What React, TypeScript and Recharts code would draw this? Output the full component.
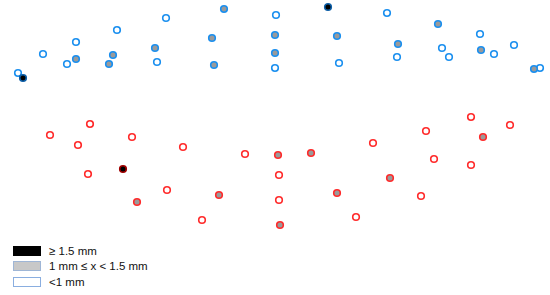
import React from 'react';
import { ScatterChart, Scatter, XAxis, YAxis } from 'recharts';

type Pt = { x: number; y: number };

// upper group (blue outline)
const blueSmall: Pt[] = [
  { x: 18, y: 73 }, { x: 43, y: 54 }, { x: 67, y: 64 }, { x: 76, y: 42 }, { x: 117, y: 30 },
  { x: 166, y: 18 }, { x: 157, y: 62 }, { x: 276, y: 15 }, { x: 275, y: 68 }, { x: 339, y: 63 },
  { x: 387, y: 13 }, { x: 397, y: 57 }, { x: 480, y: 34 }, { x: 442, y: 48 }, { x: 449, y: 57 },
  { x: 494, y: 54 }, { x: 514, y: 45 }, { x: 540, y: 68 },
];
const blueMid: Pt[] = [
  { x: 76, y: 59 }, { x: 113, y: 55 }, { x: 109, y: 64 }, { x: 155, y: 48 }, { x: 224, y: 9 },
  { x: 212, y: 38 }, { x: 214, y: 65 }, { x: 275, y: 35 }, { x: 275, y: 53 }, { x: 337, y: 36 },
  { x: 438, y: 24 }, { x: 398, y: 44 }, { x: 481, y: 50 }, { x: 534, y: 69 },
];
const blueLarge: Pt[] = [{ x: 23, y: 78 }, { x: 328, y: 7 }];

// lower group (red outline)
const redSmall: Pt[] = [
  { x: 50, y: 135 }, { x: 90, y: 124 }, { x: 78, y: 145 }, { x: 132, y: 137 }, { x: 88, y: 174 },
  { x: 183, y: 147 }, { x: 245, y: 154 }, { x: 167, y: 190 }, { x: 202, y: 220 }, { x: 279, y: 175 },
  { x: 279, y: 200 }, { x: 373, y: 143 }, { x: 356, y: 217 }, { x: 421, y: 196 }, { x: 426, y: 131 },
  { x: 434, y: 159 }, { x: 471, y: 117 }, { x: 471, y: 165 }, { x: 510, y: 125 },
];
const redMid: Pt[] = [
  { x: 137, y: 202 }, { x: 219, y: 195 }, { x: 278, y: 155 }, { x: 280, y: 225 }, { x: 311, y: 153 },
  { x: 337, y: 193 }, { x: 390, y: 178 }, { x: 483, y: 137 },
];
const redLarge: Pt[] = [{ x: 123, y: 169 }];

const legendLabels = ['≥ 1.5 mm', '1 mm ≤ x < 1.5 mm', '<1 mm'];

const BLUE = '#1a8fef';
const RED = '#ff2a2a';
const GRAY = '#9a9a9a';

const dot = (stroke: string, fill: string) => (props: any) => (
  <circle cx={props.cx} cy={props.cy} r={3.3} fill={fill} stroke={stroke} strokeWidth={1.6} />
);

const LegendBox = () => {
  const boxes = [
    { fill: '#000000', stroke: '#000000' },
    { fill: '#c8c8c8', stroke: '#9fb6d6' },
    { fill: '#ffffff', stroke: '#8aaee0' },
  ];
  return (
    <div
      style={{
        position: 'absolute', left: 13, top: 243,
        fontFamily: 'Liberation Sans, Arial, sans-serif', fontSize: 11.5, color: '#111',
      }}
    >
      {legendLabels.map((l, i) => (
        <div key={l} style={{ display: 'flex', alignItems: 'center', height: 15.5 }}>
          <span
            style={{
              display: 'inline-block', width: 26, height: 8, background: boxes[i].fill,
              border: `1px solid ${boxes[i].stroke}`, marginRight: 8,
            }}
          />
          {l}
        </div>
      ))}
    </div>
  );
};

export default function App() {
  return (
    <div style={{ position: 'absolute', left: 0, top: 0, width: 550, height: 295, background: '#fff' }}>
      <ScatterChart width={550} height={295} margin={{ top: 0, right: 0, bottom: 0, left: 0 }}>
        <XAxis type="number" dataKey="x" domain={[0, 550]} hide />
        <YAxis type="number" dataKey="y" domain={[0, 295]} reversed hide />
        <Scatter data={blueSmall} shape={dot(BLUE, '#fff')} isAnimationActive={false} />
        <Scatter data={blueMid} shape={dot(BLUE, GRAY)} isAnimationActive={false} />
        <Scatter data={blueLarge} shape={dot('#0d5fa8', '#000')} isAnimationActive={false} />
        <Scatter data={redSmall} shape={dot(RED, '#fff')} isAnimationActive={false} />
        <Scatter data={redMid} shape={dot(RED, GRAY)} isAnimationActive={false} />
        <Scatter data={redLarge} shape={dot('#a00000', '#000')} isAnimationActive={false} />
      </ScatterChart>
      <LegendBox />
    </div>
  );
}
